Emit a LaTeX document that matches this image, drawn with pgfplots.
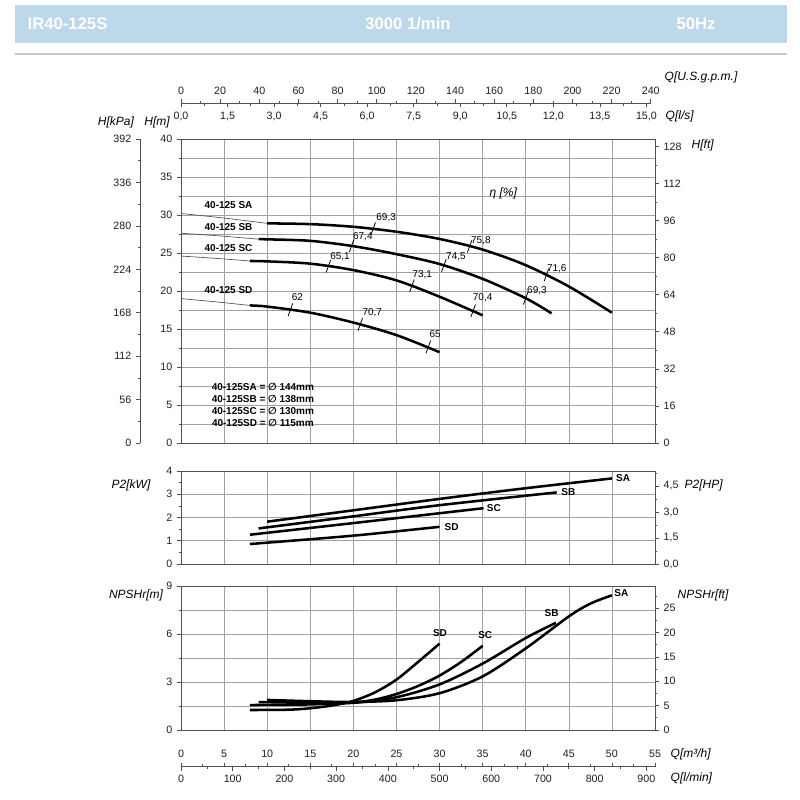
\documentclass[border=0pt]{standalone}
\usepackage{fontspec}
\setmainfont{Liberation Sans}
\newfontfamily\dejavu{DejaVu Sans}
\usepackage{pgfplots}
\pgfplotsset{compat=1.18}
\definecolor{band}{HTML}{BDD8EB}
\definecolor{axgray}{HTML}{505050}
\definecolor{gridgray}{HTML}{A0A0A0}
\definecolor{txt}{HTML}{1E1E1E}
\newcommand{\tlf}{\fontsize{8}{9.6}\selectfont}
\newcommand{\alf}{\fontsize{9}{10.8}\selectfont\itshape}
\newcommand{\blf}{\fontsize{7.5}{9}\selectfont\bfseries}
\newcommand{\elf}{\fontsize{7.5}{9}\selectfont}
\pgfplotsset{
  base/.style={
    scale only axis,
    /pgf/number format/assume math mode=true,
    tick label style={font=\tlf, text=txt},
    axis line style={axgray, line width=0.6pt},
    tick style={axgray, line width=0.5pt},
    major tick length=3pt,
    minor tick length=1.8pt,
    tick align=outside,
    grid style={gridgray, line width=0.45pt},
    minor grid style={gridgray, line width=0.45pt},
  },
  panel/.style={base, width=355.5pt, xmin=0, xmax=55,
    xtick={0,5,...,55}, xticklabels={}, xtick style={draw=none},
    xmajorgrids, ytick pos=left, clip=false},
  rax/.style={base, width=355.5pt, xmin=0, xmax=55,
    axis x line=none, axis y line*=right},
  commafmt/.style={/pgf/number format/.cd, fixed, fixed zerofill, precision=1, use comma},
  thick curve/.style={black, line width=1.9pt, smooth},
  thin curve/.style={axgray, line width=0.5pt, smooth},
  eta/.style={only marks, mark=|, mark size=5pt, mark options={rotate=-20, line width=0.6pt, black}},
}
\begin{document}
\begin{tikzpicture}
\path[use as bounding box] (0,0) rectangle (600pt,-600pt);
% header
\fill[band] (11.25pt,-3.75pt) rectangle (590.25pt,-32.25pt);
\node[anchor=west, text=white, font=\fontsize{12.5}{14}\selectfont\bfseries] at (17.25pt,-18pt) {IR40-125S};
\node[text=white, font=\fontsize{12.5}{14}\selectfont\bfseries] at (306pt,-18pt) {3000 1/min};
\node[text=white, font=\fontsize{12.5}{14}\selectfont\bfseries] at (522pt,-18pt) {50Hz};
\draw[black!22, line width=1.2pt] (11.25pt,-40.5pt) -- (590.25pt,-40.5pt);

% ---------- top flow axes ----------
\begin{axis}[base, at={(135.75pt,-77.5pt)}, anchor=north west, width=352.33pt, height=1pt,
  xmin=0, xmax=240, ymin=0, ymax=1, axis y line=none, axis x line*=top, xticklabel pos=top,
  xtick={0,20,...,240}, minor xtick={10,30,...,230}]
\end{axis}
\begin{axis}[base, at={(135.75pt,-77.5pt)}, anchor=south west, width=349.04pt, height=1pt,
  xmin=0, xmax=15, ymin=0, ymax=1, axis y line=none, axis x line*=bottom,
  xtick={0,1.5,3,4.5,6,7.5,9,10.5,12,13.5,15}, minor xtick={0.75,2.25,3.75,5.25,6.75,8.25,9.75,11.25,12.75,14.25},
  xticklabel style={commafmt}]
\end{axis}

% ---------- kPa axis ----------
\begin{axis}[base, at={(105pt,-332.25pt)}, anchor=south west, width=1pt, height=228pt,
  xmin=0, xmax=1, ymin=0, ymax=392, axis x line=none, axis y line*=left,
  ytick={0,56,...,392}, minor ytick={28,84,...,364}]
\end{axis}

% ---------- H panel ----------
\begin{axis}[panel, at={(135.75pt,-332.25pt)}, anchor=south west, height=228pt,
  ymin=0, ymax=40, ytick={0,5,...,40}, minor ytick={2.5,7.5,...,37.5}, ymajorgrids, yminorgrids]
\addplot[thin curve] coordinates {(0,30.2) (5,29.6) (10,28.9)};
\addplot[thin curve] coordinates {(0,27.6) (4.5,27.25) (9,26.82)};
\addplot[thin curve] coordinates {(0,24.6) (4,24.3) (8,23.95)};
\addplot[thin curve] coordinates {(0,19.0) (4,18.58) (8,18.1)};
\addplot[thick curve] coordinates {(10,28.9) (15,28.8) (20,28.45) (25,27.8) (30,26.85) (35,25.45) (40,23.4) (45,20.6) (50,17.15)};
\addplot[thick curve] coordinates {(9,26.82) (10,26.8) (15,26.6) (20,25.9) (25,24.85) (30,23.55) (35,21.6) (40,19.05) (43,17.06)};
\addplot[thick curve] coordinates {(8,23.95) (10,23.9) (15,23.6) (20,22.75) (25,21.4) (30,19.25) (35,16.8)};
\addplot[thick curve] coordinates {(8,18.1) (10,17.95) (15,17.15) (20,15.85) (25,14.2) (30,11.95)};
\addplot[eta] coordinates {(22.3,28.2) (33.5,25.9) (42.4,22.1)
  (19.8,25.95) (30.5,23.35) (40,19.05)
  (17.1,23.25) (26.8,20.7) (33.9,17.4)
  (12.7,17.55) (20.8,15.6) (28.7,12.65)};
\node[font=\elf] at (axis cs:23.8,29.6) {69,3};
\node[font=\elf] at (axis cs:34.8,26.6) {75,8};
\node[font=\elf] at (axis cs:43.6,22.9) {71,6};
\node[font=\elf] at (axis cs:21.1,27.1) {67,4};
\node[font=\elf] at (axis cs:31.9,24.5) {74,5};
\node[font=\elf] at (axis cs:41.3,20.1) {69,3};
\node[font=\elf] at (axis cs:18.45,24.5) {65,1};
\node[font=\elf] at (axis cs:28.0,22.2) {73,1};
\node[font=\elf] at (axis cs:35.0,19.1) {70,4};
\node[font=\elf] at (axis cs:13.5,19.2) {62};
\node[font=\elf] at (axis cs:22.2,17.2) {70,7};
\node[font=\elf] at (axis cs:29.5,14.3) {65};
\node[font=\blf, anchor=west] at (axis cs:2.2,31.3) {40-125 SA};
\node[font=\blf, anchor=west] at (axis cs:2.2,28.45) {40-125 SB};
\node[font=\blf, anchor=west] at (axis cs:2.2,25.6) {40-125 SC};
\node[font=\blf, anchor=west] at (axis cs:2.2,20.1) {40-125 SD};
\node[font=\blf] at (axis cs:9.5,7.33) {40-125SA = {\dejavu ∅} 144mm};
\node[font=\blf] at (axis cs:9.5,5.75) {40-125SB = {\dejavu ∅} 138mm};
\node[font=\blf] at (axis cs:9.5,4.21) {40-125SC = {\dejavu ∅} 130mm};
\node[font=\blf] at (axis cs:9.5,2.67) {40-125SD = {\dejavu ∅} 115mm};
\node[font=\alf] at (axis cs:37.4,32.8) {η [\%]};
\end{axis}
\begin{axis}[rax, at={(135.75pt,-332.25pt)}, anchor=south west, height=228pt,
  ymin=0, ymax=131.234, ytick={0,16,...,128}, minor ytick={8,24,...,120}]
\end{axis}

% ---------- P2 panel ----------
\begin{axis}[panel, at={(135.75pt,-423pt)}, anchor=south west, height=69.75pt,
  ymin=0, ymax=4, ytick={0,1,2,3,4}, minor ytick={0.5,1.5,2.5,3.5}, ymajorgrids]
\addplot[thick curve] coordinates {(10,1.82) (20,2.31) (30,2.8) (40,3.26) (50,3.68)};
\addplot[thick curve] coordinates {(9,1.53) (20,2.05) (30,2.53) (43.6,3.08)};
\addplot[thick curve] coordinates {(8,1.26) (20,1.76) (35.1,2.40)};
\addplot[thick curve] coordinates {(8,0.86) (20,1.22) (30,1.6)};
\node[font=\blf] at (axis cs:51.3,3.70) {SA};
\node[font=\blf] at (axis cs:44.95,3.08) {SB};
\node[font=\blf] at (axis cs:36.3,2.40) {SC};
\node[font=\blf] at (axis cs:31.4,1.60) {SD};
\end{axis}
\begin{axis}[rax, at={(135.75pt,-423pt)}, anchor=south west, height=69.75pt,
  ymin=0, ymax=5.3642, ytick={0,1.5,3,4.5}, minor ytick={0.75,2.25,3.75,5.25},
  yticklabel style={commafmt}]
\end{axis}

% ---------- NPSH panel ----------
\begin{axis}[panel, at={(135.75pt,-547.5pt)}, anchor=south west, height=108pt,
  ymin=0, ymax=9, ytick={0,3,6,9}, minor ytick={1.5,4.5,7.5}, ymajorgrids, yminorgrids]
\addplot[thick curve] coordinates {(10,1.88) (15,1.8) (20,1.75) (25,1.86) (30,2.3) (35,3.35) (40,5.1) (45,7.1) (47.5,7.9) (50,8.42)};
\addplot[thick curve] coordinates {(9,1.75) (15,1.7) (20,1.7) (25,2.05) (30,2.85) (35,4.15) (40,5.75) (43.5,6.7)};
\addplot[thick curve] coordinates {(8,1.56) (15,1.6) (20,1.72) (22.5,1.9) (25,2.25) (27.5,2.75) (30,3.4) (32.5,4.25) (35,5.26)};
\addplot[thick curve] coordinates {(8,1.25) (12.5,1.27) (15,1.36) (17.5,1.53) (20,1.82) (22.5,2.35) (25,3.15) (27.5,4.25) (30,5.4)};
\node[font=\blf] at (axis cs:30.05,6.04) {SD};
\node[font=\blf] at (axis cs:35.3,5.94) {SC};
\node[font=\blf] at (axis cs:43.0,7.29) {SB};
\node[font=\blf] at (axis cs:51.1,8.54) {SA};
\end{axis}
\begin{axis}[rax, at={(135.75pt,-547.5pt)}, anchor=south west, height=108pt,
  ymin=0, ymax=29.528, ytick={0,5,...,25}, minor ytick={2.5,7.5,...,27.5}]
\end{axis}

% ---------- bottom flow axes ----------
\begin{axis}[base, at={(135.75pt,-574.9pt)}, anchor=north west, width=355.5pt, height=1pt,
  xmin=0, xmax=55, ymin=0, ymax=1, axis y line=none, axis x line*=top, xticklabel pos=top,
  xtick={0,5,...,55}, minor xtick={2.5,7.5,...,52.5}]
\end{axis}
\begin{axis}[base, at={(135.75pt,-574.9pt)}, anchor=south west, width=349.04pt, height=1pt,
  xmin=0, xmax=900, ymin=0, ymax=1, axis y line=none, axis x line*=bottom,
  xtick={0,100,...,900}, minor xtick={50,150,...,850}]
\end{axis}

% ---------- axis titles ----------
\node[font=\alf, anchor=west] at (495pt,-57.75pt) {Q[U.S.g.p.m.]};
\node[font=\alf, anchor=west] at (495.75pt,-87pt) {Q[l/s]};
\node[font=\alf] at (87pt,-91.5pt) {H[kPa]};
\node[font=\alf] at (117.75pt,-91.5pt) {H[m]};
\node[font=\alf, anchor=west] at (515.25pt,-108.75pt) {H[ft]};
\node[font=\alf] at (98.25pt,-363.75pt) {P2[kW]};
\node[font=\alf, anchor=west] at (510pt,-363.75pt) {P2[HP]};
\node[font=\alf] at (102pt,-446.25pt) {NPSHr[m]};
\node[font=\alf, anchor=west] at (504.75pt,-446.25pt) {NPSHr[ft]};
\node[font=\alf, anchor=west] at (499.5pt,-565.5pt) {Q[m³/h]};
\node[font=\alf, anchor=west] at (499.5pt,-583.5pt) {Q[l/min]};
\end{tikzpicture}
\end{document}
